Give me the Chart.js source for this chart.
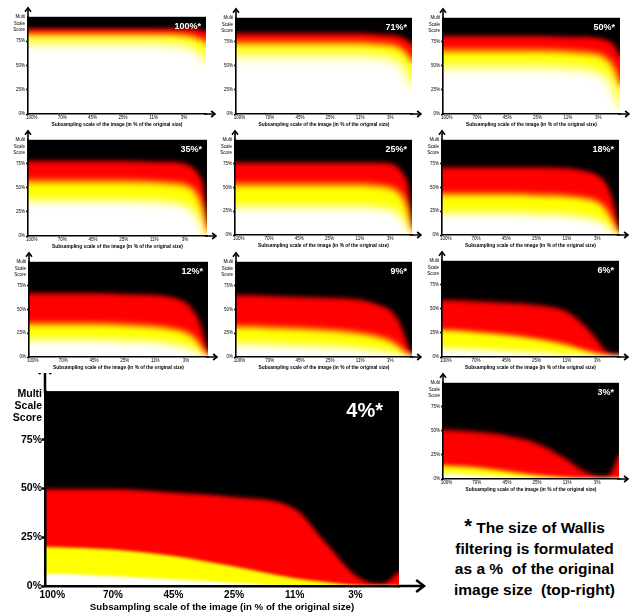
<!DOCTYPE html>
<html>
<head>
<meta charset="utf-8">
<script src="https://cdn.jsdelivr.net/npm/chart.js@4.4.1/dist/chart.umd.min.js"></script>
<style>
html,body{margin:0;padding:0;background:#fff;width:633px;height:613px;overflow:hidden;}
canvas{position:absolute;}
#note{position:absolute;left:437px;top:518px;width:195px;text-align:center;
  font:bold 15.5px "Liberation Sans",Arial,sans-serif;line-height:20.5px;color:#000;}
#note .ast{font-size:20px;vertical-align:top;line-height:16px;}
</style>
</head>
<body>
<div id="note"><span class="ast">*</span> The size of Wallis<br>filtering is formulated<br>as a %&nbsp; of the original<br>image size&nbsp; (top-right)</div>
<script>
// x positions: 0..5 are the labelled subsampling scales, the rest runs to the right edge
const xPos = [-0.6, 0, 1, 2, 3, 4, 4.5, 5, 5.25, 5.45, 5.6, 5.72, 6.4];
const xLabels = ['100%', '70%', '45%', '25%', '11%', '3%'];
const yTicks = [0, 25, 50, 75];
const yName = ['Multi', 'Scale', 'Score'];
const xName = 'Subsampling scale of the image (in % of the original size)';

// score where black->red, red->yellow and yellow->white meet, per Wallis size
const red100 = [88, 88, 88, 88, 88, 88, 88, 88, 88, 87, 86, 85, 85];
const yellow100 = [82, 82, 82, 82, 82, 82, 82, 81, 80, 78, 76, 74, 74];
const white100 = [73, 73, 73, 73, 73, 73, 72, 71, 69, 65, 60, 55, 55];

const red71 = [84, 84, 84, 84, 84, 84, 83, 82, 81, 79, 76, 73, 73];
const yellow71 = [74, 74, 74, 74, 74, 74, 73, 72, 70, 66, 61, 55, 55];
const white71 = [61, 61, 61, 61, 61, 61, 60, 58, 55, 49, 40, 30, 30];

const red50 = [81, 81, 81, 81, 81, 80, 80, 79, 77, 74, 68, 60, 60];
const yellow50 = [66, 66, 66, 66, 66, 65, 64, 62, 58, 52, 42, 30, 30];
const white50 = [49, 49, 49, 49, 49, 48, 47, 44, 39, 31, 20, 8, 8];

const red35 = [78, 78, 78, 78, 78, 77, 77, 75, 71, 64, 52, 15, 0];
const yellow35 = [57, 57, 57, 57, 57, 56, 55, 53, 49, 40, 26, 4, 0];
const white35 = [37, 37, 37, 37, 37, 36, 35, 32, 27, 18, 8, 0, 0];

const red25 = [76, 76, 76, 76, 76, 76, 76, 75, 71, 63, 49, 10, 0];
const yellow25 = [53, 53, 53, 53, 53, 53, 52, 50, 46, 38, 25, 3, 0];
const white25 = [30, 30, 30, 30, 30, 30, 29, 27, 23, 16, 7, 0, 0];

const red18 = [71, 71, 71, 71, 71, 70, 68, 63, 56, 43, 25, 3, 0];
const yellow18 = [43, 43, 43, 43, 42, 41, 39, 35, 29, 19, 9, 0, 0];
const white18 = [23, 23, 23, 23, 22, 21, 19, 16, 12, 6, 2, 0, 0];

const red12 = [67, 67, 67, 67, 66, 65, 63, 57, 48, 36, 20, 6, 0];
const yellow12 = [35, 35, 35, 35, 34, 32, 30, 26, 21, 13, 5, 0, 0];
const white12 = [18, 18, 18, 18, 17, 16, 14, 11, 8, 4, 1, 0, 0];

const red9 = [65, 65, 64, 63, 62, 60, 56, 49, 39, 25, 11, 2, 0];
const yellow9 = [32, 32, 31, 30, 28, 25, 22, 17, 12, 6, 2, 0, 0];
const white9 = [14, 14, 13, 12, 11, 9, 7, 5, 3, 1, 0, 0, 0];

const red6 = [59, 59, 58, 56.5, 54, 47, 35, 18, 7.5, 3.5, 2.5, 3, 3];
const yellow6 = [28, 28, 26, 23, 19, 12.7, 8, 3.4, 1.5, 0.5, 0, 0, 0];
const white6 = [9, 9, 8, 6.5, 5, 2.4, 1.2, 0.3, 0, 0, 0, 0, 0];

const red4 = [50, 49.7, 49.7, 48, 45.7, 39.7, 22.6, 5.5, 1.7, 1.2, 3.8, 7, 7];
const yellow4 = [21, 20, 18.7, 15.4, 10, 4, 2, 0.3, 0, 0, 0, 0, 0];
const white4 = [6.3, 6.3, 5, 3.3, 1.7, 0, 0, 0, 0, 0, 0, 0, 0];

const red3 = [52, 51, 49, 45, 37, 20, 9, 3, 2, 6, 16, 25, 25];
const yellow3 = [15, 14, 12, 8, 4, 1, 0, 0, 0, 0, 0, 0, 0];
const white3 = [6, 6, 4, 2, 0.5, 0, 0, 0, 0, 0, 0, 0, 0];

const FONT = '"Liberation Sans", Arial, sans-serif';

// layout for small and big panels
const SMALL = {yW: 18, padT: 10, padR: 12, xH: 14, tickFont: {family: FONT, size: 4.5, lineHeight: 1.45},
  xTickFont: {family: FONT, size: 4.5}, titleFont: {family: FONT, size: 4.8, weight: 'bold'},
  tickLen: 2, tickPad: 1, xPad: 1, axisW: 1.6, nameAt: 93,
  nameFont: 'bold 9px ' + FONT, nameDx: 5, nameDy: 12, ext: 9, head: 3};
const BIG = {yW: 43, padT: 18, padR: 28, xH: 27, tickFont: {family: FONT, size: 10.5, weight: 'bold', lineHeight: 1.15},
  xTickFont: {family: FONT, size: 10, weight: 'bold'}, titleFont: {family: FONT, size: 9.7, weight: 'bold'},
  tickLen: 3, tickPad: 0, xPad: 3, axisW: 2.5, nameAt: 92.3,
  nameFont: 'bold 20px ' + FONT, nameDx: 16, nameDy: 26, ext: 25, head: 6};

const panels = [
  {name: '100%*', red: red100, yellow: yellow100, white: white100, box: [28, 16, 206, 114], blur: [2.5, 3, 6]},
  {name: '71%*', red: red71, yellow: yellow71, white: white71, box: [236, 17, 412, 114], blur: [2.5, 3.5, 6]},
  {name: '50%*', red: red50, yellow: yellow50, white: white50, box: [443, 17, 620, 114], blur: [2.5, 3.5, 6]},
  {name: '35%*', red: red35, yellow: yellow35, white: white35, box: [28, 139, 207, 236], blur: [2.5, 3.5, 5]},
  {name: '25%*', red: red25, yellow: yellow25, white: white25, box: [235, 139, 412, 235], blur: [2.5, 3.5, 5]},
  {name: '18%*', red: red18, yellow: yellow18, white: white18, box: [442, 139, 619, 235], blur: [2.5, 3, 4.5]},
  {name: '12%*', red: red12, yellow: yellow12, white: white12, box: [29, 261, 208, 357], blur: [2.5, 3, 4]},
  {name: '9%*', red: red9, yellow: yellow9, white: white9, box: [236, 261, 412, 357], blur: [2.5, 3, 4]},
  {name: '6%*', red: red6, yellow: yellow6, white: white6, box: [442, 260, 619, 357], blur: [2.5, 2.5, 3]},
  {name: '3%*', red: red3, yellow: yellow3, white: white3, box: [443, 382, 619, 479], blur: [2.5, 2, 2]},
  {name: '4%*', red: red4, yellow: yellow4, white: white4, box: [45, 391, 399, 586], blur: [2, 1.5, 1.5], big: true}
];

function layer(arr, color) {
  return {
    data: xPos.map((x, i) => ({x: x, y: arr[i]})),
    backgroundColor: color,
    borderWidth: 0,
    pointRadius: 0,
    fill: {value: -40},
    cubicInterpolationMode: 'monotone',
    clip: 0
  };
}

// black background, soft band edges (canvas blur per layer), axis arrows and panel name
function heatPlugin(p, s) {
  return {
    id: 'heat',
    beforeDatasetsDraw(chart) {
      const {ctx, chartArea: a} = chart;
      ctx.save();
      ctx.fillStyle = '#000';
      ctx.fillRect(a.left, a.top, a.width, a.height);
      ctx.restore();
      ctx.filter = 'blur(' + p.blur[0] + 'px)';
    },
    afterDatasetDraw(chart, args) {
      const next = args.index - 1;
      chart.ctx.filter = next >= 0 ? 'blur(' + p.blur[2 - next] + 'px)' : 'none';
    },
    afterDraw(chart) {
      const {ctx, chartArea: a} = chart;
      ctx.save();
      ctx.filter = 'none';
      ctx.strokeStyle = '#000';
      ctx.lineWidth = s.axisW;
      const x0 = a.left, yb = a.bottom;
      ctx.beginPath();
      ctx.moveTo(x0, a.top + 2);
      ctx.lineTo(x0, a.top - s.ext);
      ctx.moveTo(a.right - 2, yb);
      ctx.lineTo(a.right + s.ext, yb);
      ctx.stroke();
      ctx.beginPath();
      ctx.moveTo(x0 - s.head, a.top - s.ext + s.head * 1.3);
      ctx.lineTo(x0, a.top - s.ext);
      ctx.lineTo(x0 + s.head, a.top - s.ext + s.head * 1.3);
      ctx.moveTo(a.right + s.ext - s.head * 1.3, yb - s.head);
      ctx.lineTo(a.right + s.ext, yb);
      ctx.lineTo(a.right + s.ext - s.head * 1.3, yb + s.head);
      ctx.stroke();
      ctx.fillStyle = '#fff';
      ctx.font = s.nameFont;
      ctx.textAlign = 'right';
      ctx.textBaseline = 'alphabetic';
      ctx.fillText(p.name, a.right - s.nameDx, a.top + s.nameDy);
      ctx.restore();
    }
  };
}

panels.forEach(p => {
  const s = p.big ? BIG : SMALL;
  const [l, t, r, b] = p.box;
  const left = l - s.yW, top = t - s.padT;
  const w = r + s.padR - left, h = b + s.xH - top;
  const cv = document.createElement('canvas');
  cv.width = w; cv.height = h;
  cv.style.left = left + 'px'; cv.style.top = top + 'px';
  cv.style.width = w + 'px'; cv.style.height = h + 'px';
  document.body.appendChild(cv);

  new Chart(cv, {
    type: 'line',
    data: {
      datasets: [
        layer(p.white, '#ffffff'),
        layer(p.yellow, '#ffff00'),
        layer(p.red, '#ff0000')
      ]
    },
    options: {
      responsive: false,
      animation: false,
      events: [],
      layout: {padding: {top: s.padT, right: s.padR, left: 0, bottom: 0}},
      plugins: {legend: {display: false}, tooltip: {enabled: false}},
      scales: {
        x: {
          type: 'linear', min: -0.12, max: 5.72,
          afterBuildTicks: sc => { sc.ticks = xLabels.map((_, i) => ({value: i})); },
          afterFit: sc => { sc.height = s.xH; },
          ticks: {callback: v => xLabels[v], font: s.xTickFont, color: '#000', padding: s.xPad, autoSkip: false, maxRotation: 0},
          grid: {display: false, drawTicks: false},
          border: {display: true, color: '#000', width: s.axisW, z: 1},
          title: {display: true, text: xName, font: s.titleFont, color: '#000', padding: 0}
        },
        y: {
          min: 0, max: 100,
          afterBuildTicks: sc => { sc.ticks = yTicks.map(v => ({value: v})).concat([{value: s.nameAt}]); },
          afterFit: sc => { sc.width = s.yW; },
          ticks: {callback: v => v === s.nameAt ? yName : v + '%', font: s.tickFont, color: '#000', padding: s.tickPad, autoSkip: false},
          grid: {display: true, drawOnChartArea: false, drawTicks: true, tickLength: s.tickLen, color: '#000',
            tickColor: c => (c.tick && c.tick.value === s.nameAt) ? 'rgba(0,0,0,0)' : '#000', tickWidth: s.axisW},
          border: {display: true, color: '#000', width: s.axisW, z: 1}
        }
      }
    },
    plugins: [heatPlugin(p, s)]
  });
});
</script>
</body>
</html>
